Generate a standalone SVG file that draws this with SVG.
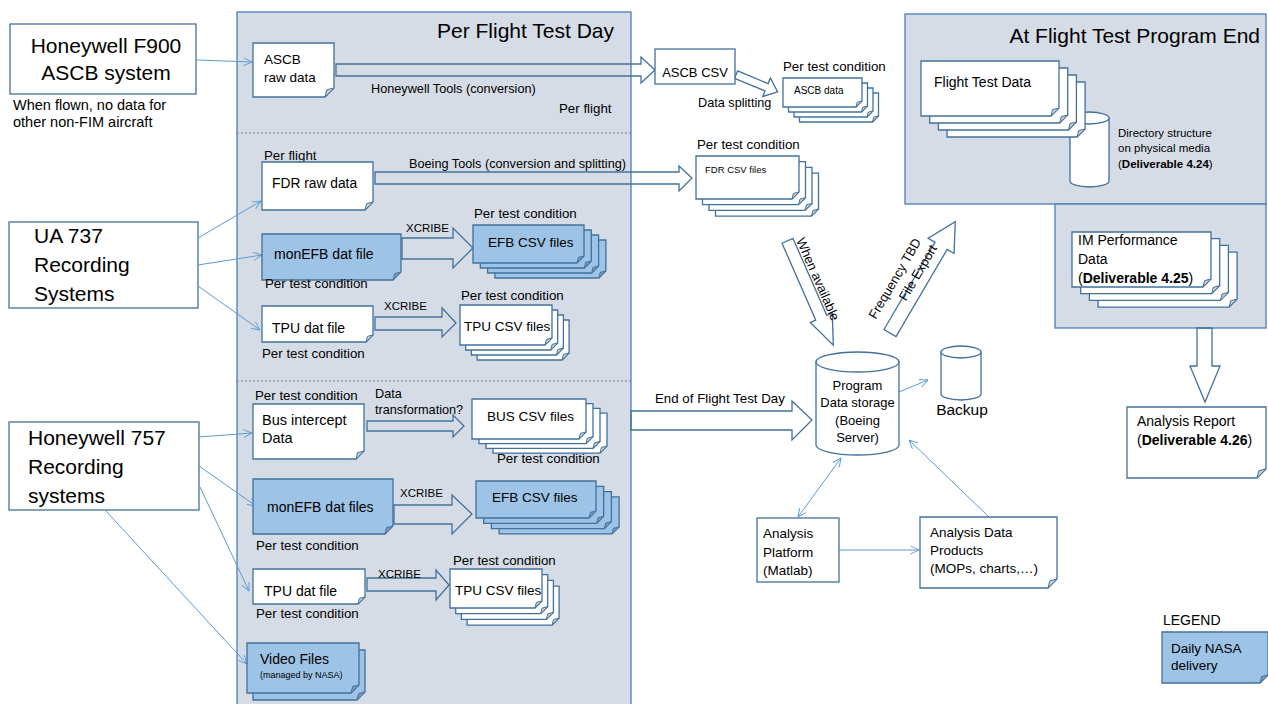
<svg xmlns="http://www.w3.org/2000/svg" width="1268" height="704" viewBox="0 0 1268 704">
<style>
text{font-family:"Liberation Sans",Arial,sans-serif;fill:#000}
.panel{fill:#d6dce5;stroke:#4a7ebb;stroke-width:1.3}
.box{fill:#fff;stroke:#41719c;stroke-width:1.3}
.doc{fill:#fff;stroke:#41719c;stroke-width:1.3}
.docb{fill:#9dc3e6;stroke:#41719c;stroke-width:1.3}
.flap{fill:#cdcdcd;stroke:#41719c;stroke-width:1}
.flapb{fill:#7e9cb8;stroke:#41719c;stroke-width:1}
.blk{fill:none;stroke:#41719c;stroke-width:1.3;stroke-linejoin:miter}
.con{fill:none;stroke:#5b9bd5;stroke-width:1;marker-end:url(#ah)}
.sep{stroke:#7f7f7f;stroke-width:1;stroke-dasharray:2 2}
.cyl{fill:#fff;stroke:#41719c;stroke-width:1.3}
.t21{font-size:21px}
.t14{font-size:14px}
.t13{font-size:13.3px}
.t12{font-size:12.7px}
</style>
<defs>
<marker id="ah" viewBox="0 0 10 10" refX="9.5" refY="5" markerWidth="9" markerHeight="9" markerUnits="userSpaceOnUse" orient="auto-start-reverse">
<path d="M0,0.5 L9.5,5 L0,9.5" fill="none" stroke="#5b9bd5" stroke-width="1"/>
</marker>
</defs>

<!-- Panels -->
<g id="panel-day">
<rect class="panel" x="237" y="12" width="394" height="700"/>
<text x="614" y="38" font-size="21" text-anchor="end">Per Flight Test Day</text>
<line class="sep" x1="237" y1="133" x2="631" y2="133"/>
<line class="sep" x1="237" y1="381" x2="631" y2="381"/>
</g>
<g id="panel-end">
<rect class="panel" x="905" y="14" width="361" height="190"/>
<rect class="panel" x="1055" y="204" width="211" height="124"/>
<text x="1260" y="43" font-size="21" text-anchor="end">At Flight Test Program End</text>
</g>

<!-- Left source boxes -->
<g id="hw-f900">
<rect class="box" x="10" y="24" width="186" height="70"/>
<text class="t21" x="106" y="53" text-anchor="middle">Honeywell F900</text>
<text class="t21" x="106" y="80" text-anchor="middle">ASCB system</text>
<text x="13" y="110" font-size="14.5">When flown, no data for</text>
<text x="13" y="127" font-size="14.5">other non-FIM aircraft</text>
</g>
<g id="ua737">
<rect class="box" x="9" y="222" width="189" height="86"/>
<text class="t21" x="34" y="243">UA 737</text>
<text class="t21" x="34" y="272">Recording</text>
<text class="t21" x="34" y="301">Systems</text>
</g>
<g id="hw757">
<rect class="box" x="9" y="422" width="190" height="88"/>
<text class="t21" x="28" y="445">Honeywell 757</text>
<text class="t21" x="28" y="474">Recording</text>
<text class="t21" x="28" y="503">systems</text>
</g>

<!-- Connectors -->
<g id="connectors">
<line class="con" x1="196" y1="60" x2="252" y2="62"/>
<line class="con" x1="198" y1="238" x2="261" y2="201"/>
<line class="con" x1="198" y1="265" x2="262" y2="255"/>
<line class="con" x1="198" y1="286" x2="260" y2="330"/>
<line class="con" x1="199" y1="437" x2="252" y2="433"/>
<line class="con" x1="199" y1="466" x2="256" y2="506"/>
<line class="con" x1="200" y1="487" x2="249" y2="591"/>
<line class="con" x1="105" y1="510" x2="247" y2="664"/>
<line class="con" x1="899" y1="392" x2="928" y2="380"/>
<line class="con" x1="989" y1="517" x2="909" y2="440"/>
<line class="con" x1="798" y1="517" x2="841" y2="458" style="marker-start:url(#ah)"/>
<line class="con" x1="839" y1="550" x2="919" y2="550"/>
<!-- block arrows -->
<polygon class="blk" points="336,64 641,64 641,57 655,70 641,83 641,76 336,76"/>
<polygon class="blk" points="-1,-4 32,-4 32,-10 44,0 32,10 32,4 -1,4" transform="translate(737,75) rotate(22.5)"/>
<polygon class="blk" points="375,172 679,172 679,166 692,178 679,191 679,184 375,184"/>
<polygon class="blk" points="402,238 453,238 453,228 473,248 453,268 453,259 402,259"/>
<polygon class="blk" points="375,317 442,317 442,308 456,323 442,337 442,330 375,330"/>
<polygon class="blk" points="367,421 453,421 453,415 464,426 453,437 453,431 367,431"/>
<polygon class="blk" points="394,505 452,505 452,495 472,514 452,534 452,524 394,524"/>
<polygon class="blk" points="367,578 436,578 436,570 449,585 436,600 436,591 367,591"/>
<polygon class="blk" points="631,411 792,411 792,401 812,420 792,440 792,430 631,430"/>
<polygon class="blk" points="0,-6 84,-6 84,-12 114,0 84,12 84,6 0,6" transform="translate(787.5,240.8) rotate(66.3)"/>
<polygon class="blk" points="0,-7 101,-7 101,-15 129,0 101,15 101,7 0,7" transform="translate(890,333) rotate(-59.6)"/>
<polygon class="blk" points="1197,328 1212,328 1212,366 1220,366 1205,402 1190,366 1197,366"/>
</g>

<!-- Connector labels -->
<g id="labels">
<text class="t12" x="371" y="93">Honeywell Tools (conversion)</text>
<text class="t13" x="559" y="113">Per flight</text>
<text class="t12" x="698" y="107">Data splitting</text>
<text class="t12" x="409" y="168">Boeing Tools (conversion and splitting)</text>
<text x="406" y="232" font-size="11.5">XCRIBE</text>
<text x="384" y="310" font-size="11.5">XCRIBE</text>
<text x="375" y="398" font-size="12.7">Data</text>
<text x="375" y="414" font-size="12.7">transformation?</text>
<text x="400" y="497" font-size="11.5">XCRIBE</text>
<text x="378" y="578" font-size="11.5">XCRIBE</text>
<text class="t13" x="655" y="403">End of Flight Test Day</text>
<text font-size="13" transform="translate(787.5,240.8) rotate(66.3)" x="3" y="-8">When available</text>
<g transform="translate(890,333) rotate(-59.6)">
<text font-size="13" x="4" y="-19">Frequency TBD</text>
<text font-size="13" x="35" y="-2">File Export</text>
</g>
</g>

<!-- Per flight test day nodes -->
<g id="ascb-raw">
<path class="doc" d="M253,43 H334 V88 L325,97 H253 Z"/>
<path class="flap" d="M325,97 L326.8,89.8 L334,88 Z"/>
<text x="264" y="64" font-size="13.5">ASCB</text>
<text x="264" y="82" font-size="13.5">raw data</text>
</g>
<g id="ascb-csv">
<rect class="box" x="655" y="49" width="80" height="35"/>
<text x="695" y="77" font-size="13" text-anchor="middle">ASCB CSV</text>
</g>
<g id="ascb-data">
<text class="t13" x="783" y="71">Per test condition</text>
<path class="doc" d="M799.5,93 H878.5 V116 L872.5,122 H799.5 Z"/><path class="flap" d="M872.5,122 L873.7,117.2 L878.5,116 Z"/>
<path class="doc" d="M794,88 H873 V111 L867,117 H794 Z"/><path class="flap" d="M867,117 L868.2,112.2 L873,111 Z"/>
<path class="doc" d="M788.5,83 H867.5 V106 L861.5,112 H788.5 Z"/><path class="flap" d="M861.5,112 L862.7,107.2 L867.5,106 Z"/>
<path class="doc" d="M783,78 H862 V101 L856,107 H783 Z"/><path class="flap" d="M856,107 L857.2,102.2 L862,101 Z"/>
<text x="794" y="94" font-size="10">ASCB data</text>
</g>
<g id="fdr-raw">
<text class="t13" x="264" y="160">Per flight</text>
<path class="doc" d="M262,162 H373 V202 L365,210 H262 Z"/>
<path class="flap" d="M365,210 L366.6,203.6 L373,202 Z"/>
<text x="272" y="188" font-size="13.8">FDR raw data</text>
</g>
<g id="fdr-csv">
<text class="t13" x="697" y="149">Per test condition</text>
<path class="doc" d="M715.5,173.1 H818.5 V209.1 L811.5,216.1 H715.5 Z"/><path class="flap" d="M811.5,216.1 L812.9,210.5 L818.5,209.1 Z"/>
<path class="doc" d="M709,167.4 H812 V203.4 L805,210.4 H709 Z"/><path class="flap" d="M805,210.4 L806.4,204.8 L812,203.4 Z"/>
<path class="doc" d="M702.5,161.7 H805.5 V197.7 L798.5,204.7 H702.5 Z"/><path class="flap" d="M798.5,204.7 L799.9,199.1 L805.5,197.7 Z"/>
<path class="doc" d="M696,156 H799 V192 L792,199 H696 Z"/><path class="flap" d="M792,199 L793.4,193.4 L799,192 Z"/>
<text x="705" y="173" font-size="9.5">FDR CSV files</text>
</g>
<g id="monefb-1">
<path class="docb" d="M262,234 H401 V272 L393,280 H262 Z"/>
<path class="flapb" d="M393,280 L394.6,273.6 L401,272 Z"/>
<text class="t14" x="274" y="259">monEFB dat file</text>
<text class="t13" x="265" y="288">Per test condition</text>
</g>
<g id="efb-csv-1">
<text class="t13" x="474" y="218">Per test condition</text>
<path class="docb" d="M494.9,240 H605.9 V271 L598.9,278 H494.9 Z"/><path class="flapb" d="M598.9,278 L600.3,272.4 L605.9,271 Z"/>
<path class="docb" d="M487.6,235 H598.6 V266 L591.6,273 H487.6 Z"/><path class="flapb" d="M591.6,273 L593,267.4 L598.6,266 Z"/>
<path class="docb" d="M480.3,230 H591.3 V261 L584.3,268 H480.3 Z"/><path class="flapb" d="M584.3,268 L585.7,262.4 L591.3,261 Z"/>
<path class="docb" d="M473,225 H584 V256 L577,263 H473 Z"/><path class="flapb" d="M577,263 L578.4,257.4 L584,256 Z"/>
<text x="488" y="247" font-size="13.5">EFB CSV files</text>
</g>
<g id="tpu-dat-1">
<path class="doc" d="M262,306 H373 V335 L366,342 H262 Z"/>
<path class="flap" d="M366,342 L367.4,336.4 L373,335 Z"/>
<text class="t14" x="272" y="333">TPU dat file</text>
<text class="t13" x="262" y="358">Per test condition</text>
</g>
<g id="tpu-csv-1">
<text class="t13" x="461" y="300">Per test condition</text>
<path class="doc" d="M477.1,320 H569.1 V353 L562.1,360 H477.1 Z"/><path class="flap" d="M562.1,360 L563.5,354.4 L569.1,353 Z"/>
<path class="doc" d="M471.4,315 H563.4 V348 L556.4,355 H471.4 Z"/><path class="flap" d="M556.4,355 L557.8,349.4 L563.4,348 Z"/>
<path class="doc" d="M465.7,310 H557.7 V343 L550.7,350 H465.7 Z"/><path class="flap" d="M550.7,350 L552.1,344.4 L557.7,343 Z"/>
<path class="doc" d="M460,305 H552 V338 L545,345 H460 Z"/><path class="flap" d="M545,345 L546.4,339.4 L552,338 Z"/>
<text x="464" y="331" font-size="13.5">TPU CSV files</text>
</g>
<g id="bus-intercept">
<text class="t13" x="255" y="400">Per test condition</text>
<path class="doc" d="M253,404 H364 V451 L356,459 H253 Z"/>
<path class="flap" d="M356,459 L357.6,452.6 L364,451 Z"/>
<text x="262" y="425" font-size="14.5">Bus intercept</text>
<text x="262" y="443" font-size="14.5">Data</text>
</g>
<g id="bus-csv">
<path class="doc" d="M493,413.1 H607 V446.1 L600,453.1 H493 Z"/><path class="flap" d="M600,453.1 L601.4,447.5 L607,446.1 Z"/>
<path class="doc" d="M486,408.4 H600 V441.4 L593,448.4 H486 Z"/><path class="flap" d="M593,448.4 L594.4,442.8 L600,441.4 Z"/>
<path class="doc" d="M479,403.7 H593 V436.7 L586,443.7 H479 Z"/><path class="flap" d="M586,443.7 L587.4,438.1 L593,436.7 Z"/>
<path class="doc" d="M472,399 H586 V432 L579,439 H472 Z"/><path class="flap" d="M579,439 L580.4,433.4 L586,432 Z"/>
<text x="487" y="421" font-size="13.5">BUS CSV files</text>
<text class="t13" x="497" y="463">Per test condition</text>
</g>
<g id="monefb-2">
<path class="docb" d="M253,479 H393 V526 L385,534 H253 Z"/>
<path class="flapb" d="M385,534 L386.6,527.6 L393,526 Z"/>
<text class="t14" x="267" y="512">monEFB dat files</text>
<text class="t13" x="256" y="550">Per test condition</text>
</g>
<g id="efb-csv-2">
<path class="docb" d="M499.1,496.9 H619.1 V526.9 L612.1,533.9 H499.1 Z"/><path class="flapb" d="M612.1,533.9 L613.5,528.3 L619.1,526.9 Z"/>
<path class="docb" d="M491.4,491.6 H611.4 V521.6 L604.4,528.6 H491.4 Z"/><path class="flapb" d="M604.4,528.6 L605.8,523 L611.4,521.6 Z"/>
<path class="docb" d="M483.7,486.3 H603.7 V516.3 L596.7,523.3 H483.7 Z"/><path class="flapb" d="M596.7,523.3 L598.1,517.7 L603.7,516.3 Z"/>
<path class="docb" d="M476,481 H596 V511 L589,518 H476 Z"/><path class="flapb" d="M589,518 L590.4,512.4 L596,511 Z"/>
<text x="492" y="502" font-size="13.5">EFB CSV files</text>
</g>
<g id="tpu-dat-2">
<path class="doc" d="M253,569 H365 V597 L358,604 H253 Z"/>
<path class="flap" d="M358,604 L359.4,598.4 L365,597 Z"/>
<text class="t14" x="264" y="596">TPU dat file</text>
<text class="t13" x="256" y="618">Per test condition</text>
</g>
<g id="tpu-csv-2">
<text class="t13" x="453" y="565">Per test condition</text>
<path class="doc" d="M467.1,586.1 H559.1 V618.1 L552.1,625.1 H467.1 Z"/><path class="flap" d="M552.1,625.1 L553.5,619.5 L559.1,618.1 Z"/>
<path class="doc" d="M461.4,580.4 H553.4 V612.4 L546.4,619.4 H461.4 Z"/><path class="flap" d="M546.4,619.4 L547.8,613.8 L553.4,612.4 Z"/>
<path class="doc" d="M455.7,574.7 H547.7 V606.7 L540.7,613.7 H455.7 Z"/><path class="flap" d="M540.7,613.7 L542.1,608.1 L547.7,606.7 Z"/>
<path class="doc" d="M450,569 H542 V601 L535,608 H450 Z"/><path class="flap" d="M535,608 L536.4,602.4 L542,601 Z"/>
<text x="455" y="595" font-size="13.5">TPU CSV files</text>
</g>
<g id="video">
<path class="docb" d="M253,650 H365 V692 L357,700 H253 Z"/><path class="flapb" d="M357,700 L358.6,693.6 L365,692 Z"/>
<path class="docb" d="M247,643 H359 V685 L351,693 H247 Z"/><path class="flapb" d="M351,693 L352.6,686.6 L359,685 Z"/>
<text class="t14" x="260" y="664">Video Files</text>
<text x="260" y="678" font-size="9">(managed by NASA)</text>
</g>

<!-- Storage and analysis -->
<g id="storage">
<path class="cyl" d="M816,362 V445 A41.5,10 0 0 0 899,445 V362 Z"/>
<ellipse class="cyl" cx="857.5" cy="362" rx="41.5" ry="10"/>
<text x="857.5" y="390" font-size="13" text-anchor="middle">Program</text>
<text x="857.5" y="407" font-size="13" text-anchor="middle">Data storage</text>
<text x="857.5" y="425" font-size="13" text-anchor="middle">(Boeing</text>
<text x="857.5" y="442" font-size="13" text-anchor="middle">Server)</text>
</g>
<g id="backup">
<path class="cyl" d="M941,352 V394 A20,6 0 0 0 981,394 V352 Z"/>
<ellipse class="cyl" cx="961" cy="352" rx="20" ry="6"/>
<text x="962" y="415" font-size="15.5" text-anchor="middle">Backup</text>
</g>
<g id="platform">
<rect class="box" x="757" y="518" width="82" height="64"/>
<text x="763" y="538" font-size="13.5">Analysis</text>
<text x="763" y="557" font-size="13.5">Platform</text>
<text x="763" y="575" font-size="13.5">(Matlab)</text>
</g>
<g id="products">
<path class="doc" d="M920,517 H1057 V579 L1048,588 H920 Z"/>
<path class="flap" d="M1048,588 L1049.8,580.8 L1057,579 Z"/>
<text x="930" y="537" font-size="13.5">Analysis Data</text>
<text x="930" y="555" font-size="13.5">Products</text>
<text x="930" y="573" font-size="13.5">(MOPs, charts,…)</text>
</g>

<!-- Program end nodes -->
<g id="directory">
<path class="cyl" d="M1070,118 V181 A19.5,6 0 0 0 1109,181 V118 Z"/>
<ellipse class="cyl" cx="1089.5" cy="118" rx="19.5" ry="6"/>
<text x="1118" y="137" font-size="11.5">Directory structure</text>
<text x="1118" y="152" font-size="11.5">on physical media</text>
<text x="1118" y="168" font-size="11.5">(<tspan font-weight="bold">Deliverable 4.24</tspan>)</text>
</g>
<g id="flight-test-data">
<path class="doc" d="M947.1,82 H1085.1 V129 L1077.1,137 H947.1 Z"/><path class="flap" d="M1077.1,137 L1078.7,130.6 L1085.1,129 Z"/>
<path class="doc" d="M938.4,75 H1076.4 V122 L1068.4,130 H938.4 Z"/><path class="flap" d="M1068.4,130 L1070,123.6 L1076.4,122 Z"/>
<path class="doc" d="M929.7,68 H1067.7 V115 L1059.7,123 H929.7 Z"/><path class="flap" d="M1059.7,123 L1061.3,116.6 L1067.7,115 Z"/>
<path class="doc" d="M921,61 H1059 V108 L1051,116 H921 Z"/><path class="flap" d="M1051,116 L1052.6,109.6 L1059,108 Z"/>
<text class="t14" x="934" y="87">Flight Test Data</text>
</g>
<g id="im-perf">
<path class="doc" d="M1098.1,252.1 H1237.1 V299.1 L1229.1,307.1 H1098.1 Z"/><path class="flap" d="M1229.1,307.1 L1230.7,300.7 L1237.1,299.1 Z"/>
<path class="doc" d="M1089.4,245.4 H1228.4 V292.4 L1220.4,300.4 H1089.4 Z"/><path class="flap" d="M1220.4,300.4 L1222,294 L1228.4,292.4 Z"/>
<path class="doc" d="M1080.7,238.7 H1219.7 V285.7 L1211.7,293.7 H1080.7 Z"/><path class="flap" d="M1211.7,293.7 L1213.3,287.3 L1219.7,285.7 Z"/>
<path class="doc" d="M1072,232 H1211 V279 L1203,287 H1072 Z"/><path class="flap" d="M1203,287 L1204.6,280.6 L1211,279 Z"/>
<text class="t14" x="1078" y="245">IM Performance</text>
<text class="t14" x="1078" y="264">Data</text>
<text class="t14" x="1078" y="283">(<tspan font-weight="bold">Deliverable 4.25</tspan>)</text>
</g>
<g id="report">
<path class="doc" d="M1127,407 H1266 V469 L1257,478 H1127 Z"/>
<path class="flap" d="M1257,478 L1258.8,470.8 L1266,469 Z"/>
<text class="t14" x="1137" y="426">Analysis Report</text>
<text class="t14" x="1137" y="445">(<tspan font-weight="bold">Deliverable 4.26</tspan>)</text>
</g>
<g id="legend">
<text class="t14" x="1163" y="625">LEGEND</text>
<path class="docb" d="M1162,632 H1268 V675 L1260,683 H1162 Z"/>
<path class="flapb" d="M1260,683 L1261.6,676.6 L1268,675 Z"/>
<text x="1171" y="653" font-size="13.5">Daily NASA</text>
<text x="1171" y="670" font-size="13.5">delivery</text>
</g>
</svg>
